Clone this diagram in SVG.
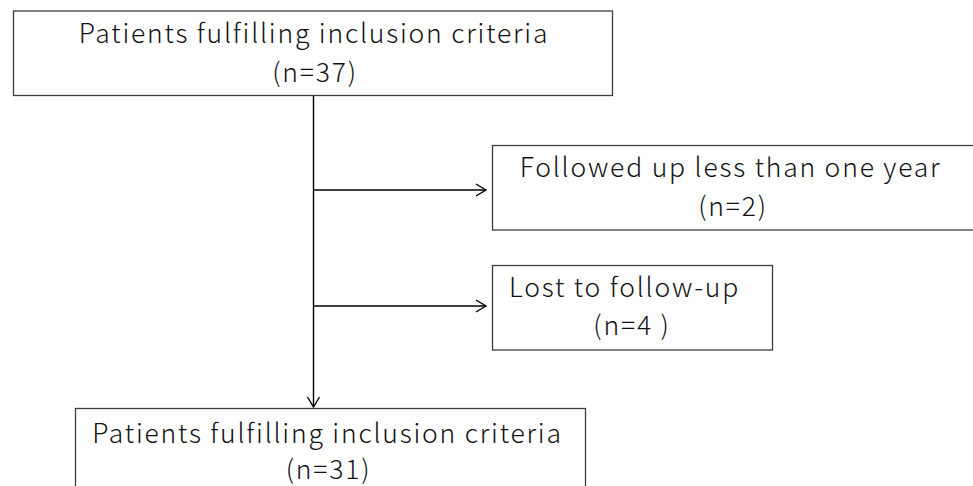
<svg xmlns="http://www.w3.org/2000/svg" width="973" height="486" viewBox="0 0 973 486">
<defs>
<style>
.box{fill:#fff;stroke:#3c3c3c;stroke-width:1.3}
.t{font-family:"Noto Sans CJK JP","Noto Sans",sans-serif;font-size:26.5px;letter-spacing:1.8px;fill:#111;text-anchor:middle;font-weight:300}
.c{fill:none;stroke:#000;stroke-width:1.4}
</style>
<marker id="ah" markerWidth="14" markerHeight="14" refX="11" refY="7" orient="auto" markerUnits="userSpaceOnUse">
<path d="M1,1 L11,7 L1,13" fill="none" stroke="#000" stroke-width="1.4"/>
</marker>
</defs>
<g id="connectors">
<line class="c" x1="313.5" y1="95" x2="313.5" y2="407" marker-end="url(#ah)"/>
<line class="c" x1="313.5" y1="190" x2="486" y2="190" marker-end="url(#ah)"/>
<line class="c" x1="313.5" y1="306" x2="486" y2="306" marker-end="url(#ah)"/>
</g>
<g id="n1">
<rect class="box" x="13.5" y="11" width="599" height="84.5"/>
<text class="t" x="314" y="43">Patients fulfilling inclusion criteria</text>
<text class="t" x="315" y="82">(n=37)</text>
</g>
<g id="n2">
<rect class="box" x="492.5" y="145.5" width="490" height="84.5"/>
<text class="t" x="730.5" y="177">Followed up less than one year</text>
<text class="t" x="733" y="216">(n=2)</text>
</g>
<g id="n3">
<rect class="box" x="492.5" y="265.5" width="280" height="84.5"/>
<text class="t" x="624.5" y="297">Lost to follow-up</text>
<text class="t" x="632" y="335">(n=4 )</text>
</g>
<g id="n4">
<rect class="box" x="75.5" y="408.5" width="510" height="90"/>
<text class="t" x="327.5" y="443">Patients fulfilling inclusion criteria</text>
<text class="t" x="328.5" y="479">(n=31)</text>
</g>
</svg>
